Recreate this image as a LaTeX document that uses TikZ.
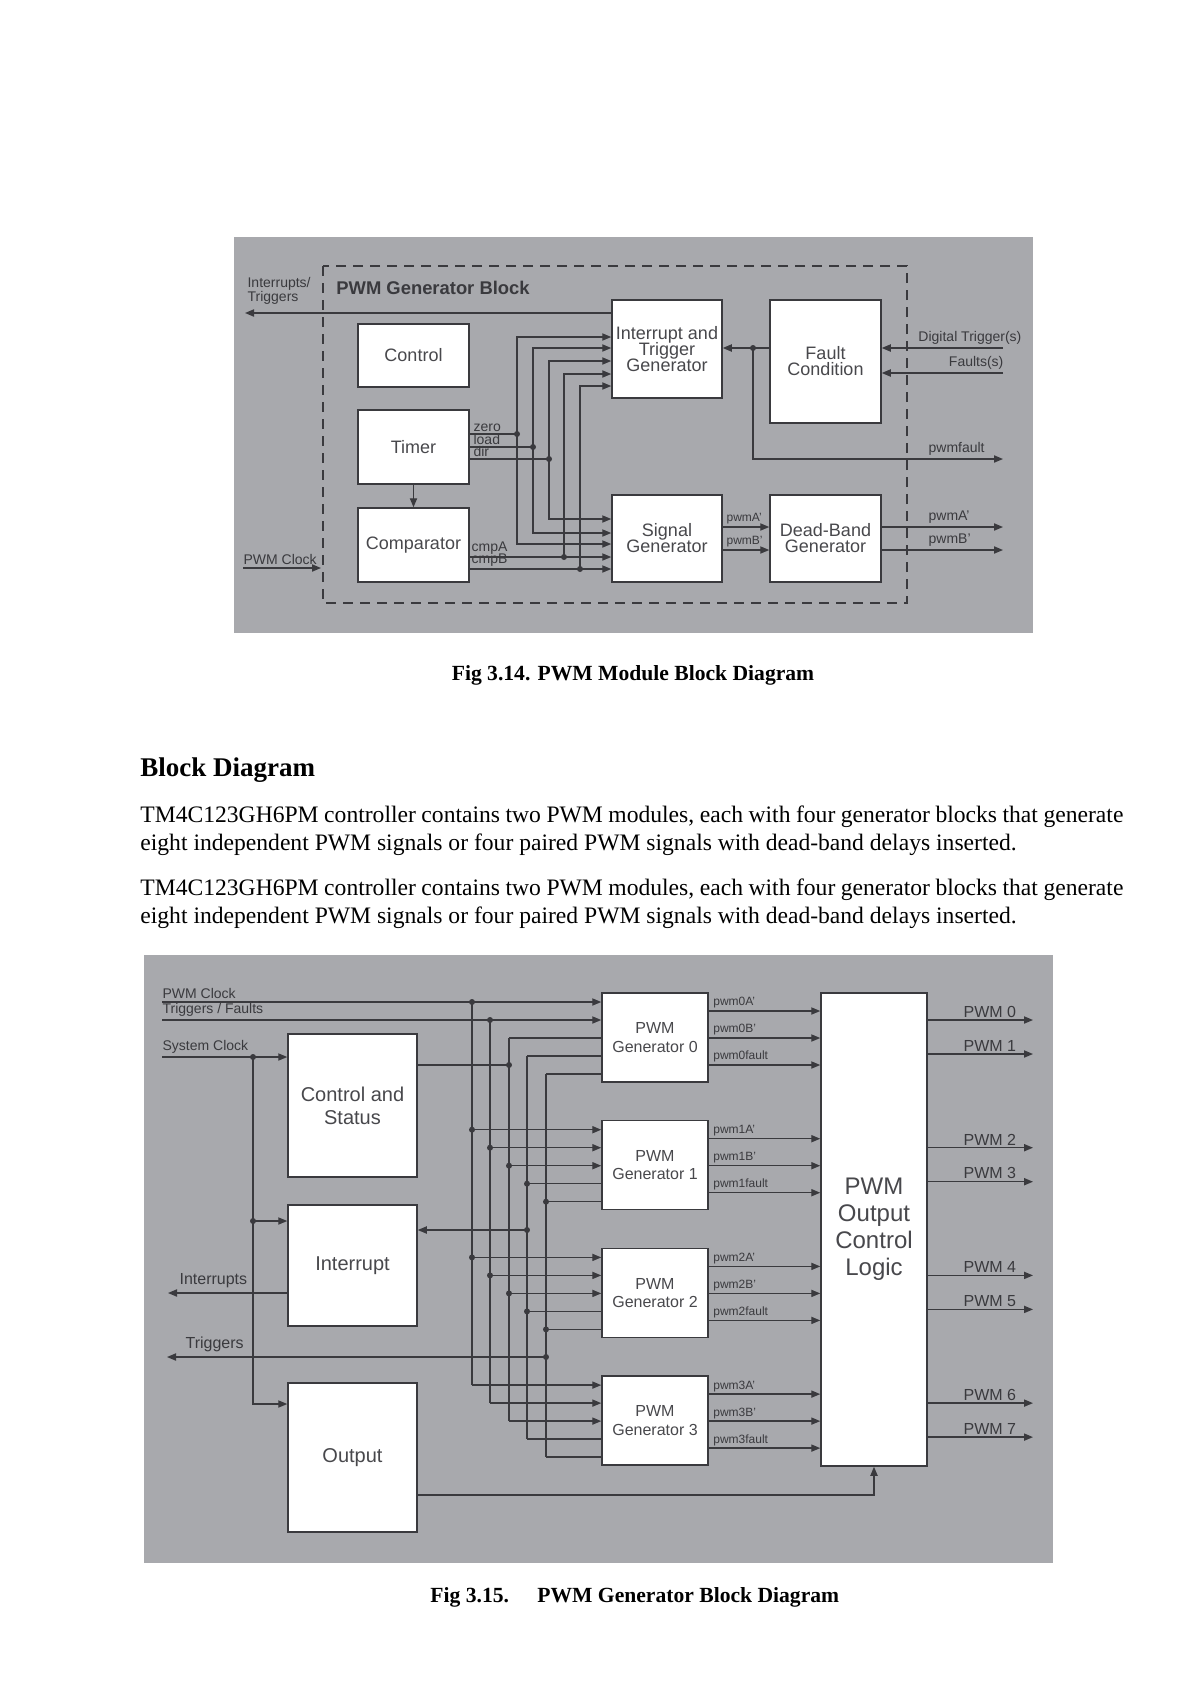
\documentclass[tikz,border=0pt]{standalone}
\usepackage{fontspec}
\setmainfont{Liberation Serif}
\setsansfont{Liberation Sans}
\usetikzlibrary{positioning}
\usetikzlibrary{calc}
\usetikzlibrary{arrows.meta}
\definecolor{panel}{RGB}{168,169,173}
\definecolor{wirec}{RGB}{58,58,62}
\definecolor{ink}{RGB}{72,72,76}
\newcommand{\fs}[1]{\fontsize{#1}{#1}\selectfont}

\begin{document}
\begin{tikzpicture}[x=0.5pt, y=-0.5pt, font=\sffamily,
    blk/.style={draw=wirec, fill=white, line width=0.75pt, inner sep=0pt, align=center, text=ink},
    sz/.style 2 args={minimum width=#1*0.5pt, minimum height=#2*0.5pt},
    wire/.style={draw=wirec, line width=0.65pt},
    arr/.style={wire, -{Triangle[length=4.5pt,width=3.6pt]}},
    jdot/.style={circle, fill=wirec, inner sep=0pt, minimum size=3pt},
    sig/.style={inner sep=0.6pt, text=wirec, font=\sffamily\fs{7}},
    tiny/.style={inner sep=0.6pt, text=wirec, font=\sffamily\fs{6}},
    body/.style={inner sep=0pt, anchor=west, font=\fs{11.8}}]
    \useasboundingbox (0,0) rectangle (1200,1698);
    \fill[white] (0,0) rectangle (1200,1698);

    % ---------------- Fig 3.14 ----------------
    \fill[panel] (234,237) rectangle (1033,633);
    \draw[wirec, line width=0.9pt, dash pattern=on 5pt off 3.5pt] (323,266) rectangle (907,603);
    \node[anchor=west, inner sep=0pt, text=wirec, font=\sffamily\bfseries\fs{9.2}] (gbt) at (336,288) {PWM Generator Block};

    \node[blk, sz={111}{63}, font=\sffamily\fs{9}] (ctrl) at (413.5,355.5) {Control};
    \node[blk, sz={111}{74}, font=\sffamily\fs{9}] (timer) at (413.5,447) {Timer};
    \node[blk, sz={111}{74}, font=\sffamily\fs{9}] (comp) at (413.5,545) {Comparator};
    \node[blk, sz={110}{98}, font=\sffamily\fs{9}] (igen) at (667,349) {Interrupt and\\[-1pt]Trigger\\[-1pt]Generator};
    \node[blk, sz={111}{123}, font=\sffamily\fs{9}] (fault) at (825.5,361.5) {Fault\\[-1pt]Condition};
    \node[blk, sz={110}{87}, font=\sffamily\fs{9}] (sgen) at (667,538.5) {Signal\\[-1pt]Generator};
    \node[blk, sz={111}{87}, font=\sffamily\fs{9}] (dband) at (825.5,538.5) {Dead-Band\\[-1pt]Generator};

    \draw[arr] (timer) -- (comp);

    % outputs to the left
    \coordinate (itout) at (245,313);
    \draw[arr] (igen.west |- itout) -- (itout);
    \node[sig, anchor=west, align=left] (itl) at (246,291) {Interrupts/\\Triggers};
    \coordinate (clkin) at (243,568);
    \coordinate (clkend) at (321,568);
    \draw[arr] (clkin) -- (clkend);
    \node[sig, anchor=south west] (clkl) at (242,566) {PWM Clock};

    % timer and comparator buses
    \coordinate (zr) at (517,434);
    \coordinate (ld) at (533,447);
    \coordinate (dr) at (549,459);
    \coordinate (ca) at (564,557);
    \coordinate (cb) at (580,569);
    \draw[wire] (timer.east |- zr) -- (zr);
    \draw[wire] (timer.east |- ld) -- (ld);
    \draw[wire] (timer.east |- dr) -- (dr);
    \draw[arr] (comp.east |- ca) -- (sgen.west |- ca);
    \draw[arr] (comp.east |- cb) -- (sgen.west |- cb);
    \draw[arr] (zr) |- (igen.west |- 0,337);
    \draw[arr] (ld) |- (igen.west |- 0,348);
    \draw[arr] (dr) |- (igen.west |- 0,361);
    \draw[arr] (ca) |- (igen.west |- 0,374);
    \draw[arr] (cb) |- (igen.west |- 0,386);
    \draw[arr] (zr) |- (sgen.west |- 0,544);
    \draw[arr] (ld) |- (sgen.west |- 0,533);
    \draw[arr] (dr) |- (sgen.west |- 0,519);
    \foreach \j in {zr,ld,dr,ca,cb} \node[jdot] at (\j) {};
    \node[sig, anchor=south west] (zrl) at (472,433) {zero};
    \node[sig, anchor=south west] (ldl) at (472,446) {load};
    \node[sig, anchor=south west] (drl) at (472,458) {dir};
    \node[sig, anchor=south west] (cal) at (470,556) {cmpA};
    \node[sig, anchor=south west] (cbl) at (470,568) {cmpB};

    % fault condition
    \coordinate (fj) at (753,348);
    \coordinate (pfo) at (1003,459);
    \draw[arr] (fault.west |- fj) -- (igen.east |- fj);
    \draw[arr] (fj) |- (pfo);
    \node[jdot] at (fj) {};
    \node[sig, anchor=south west] (pfl) at (927,457) {pwmfault};
    \coordinate (dtin) at (1003,348);
    \coordinate (ftin) at (1003,373);
    \draw[arr] (dtin) -- (fault.east |- dtin);
    \draw[arr] (ftin) -- (fault.east |- ftin);
    \node[sig, anchor=south east] (dtl) at (1023,346) {Digital Trigger(s)};
    \node[sig, anchor=south east] (ftl) at (1005,371) {Faults(s)};

    % signal and dead-band
    \coordinate (pai) at (0,527);
    \coordinate (pbi) at (0,550);
    \draw[arr] (sgen.east |- pai) -- (dband.west |- pai);
    \draw[arr] (sgen.east |- pbi) -- (dband.west |- pbi);
    \node[tiny, anchor=south west] (pail) at (725,526) {pwmA'};
    \node[tiny, anchor=south west] (pbil) at (725,549) {pwmB'};
    \coordinate (pao) at (1003,527);
    \coordinate (pbo) at (1003,550);
    \draw[arr] (dband.east |- pao) -- (pao);
    \draw[arr] (dband.east |- pbo) -- (pbo);
    \node[sig, anchor=south west] (paol) at (927,525) {pwmA'};
    \node[sig, anchor=south west] (pbol) at (927,548) {pwmB'};

    \node[font=\bfseries\fs{10.8}, inner sep=0pt] (cap1) at (633,675) {Fig 3.14. PWM Module Block Diagram};

    % ---------------- text ----------------
    \node[body, font=\bfseries\fs{13.5}] (head) at (140,770) {Block Diagram};
    \node[body] (t1) at (140,817) {\makebox[491.5pt][s]{TM4C123GH6PM controller contains two PWM modules, each with four generator blocks that generate}};
    \node[body] (t2) at (140,845) {eight independent PWM signals or four paired PWM signals with dead-band delays inserted.};
    \node[body] (t3) at (140,890) {\makebox[491.5pt][s]{TM4C123GH6PM controller contains two PWM modules, each with four generator blocks that generate}};
    \node[body] (t4) at (140,918) {eight independent PWM signals or four paired PWM signals with dead-band delays inserted.};

    % ---------------- Fig 3.15 ----------------
    \fill[panel] (144,955) rectangle (1053,1563);

    \node[blk, sz={129}{143}, font=\sffamily\fs{10}] (cs) at (352.5,1105.5) {Control and\\[1.4pt]Status};
    \node[blk, sz={129}{121}, font=\sffamily\fs{10}] (intr) at (352.5,1265.5) {Interrupt};
    \node[blk, sz={129}{149}, font=\sffamily\fs{10}] (outp) at (352.5,1457.5) {Output};
    \node[blk, sz={106}{473}, font=\sffamily\fs{12}] (ocl) at (874,1229.5) {PWM\\[1.5pt]Output\\[1.5pt]Control\\[1.5pt]Logic};
    \foreach \i in {0,...,3}
        \node[blk, sz={106}{89}, font=\sffamily\fs{8}] (g\i) at (655,{1037.5+127.7*\i}) {PWM\\[1.2pt]Generator \i};

    % bus coordinates
    \foreach \k/\bx in {1/472,2/490,3/509,4/527,5/546} {
        \foreach \i in {0,...,3}
            \coordinate (b\k\i) at (\bx,{993+127.7*\i+9+18*(\k-1)});
        \draw[wire] (b\k0) -- (b\k3);
    }
    \coordinate (pclk) at (162,1002);
    \coordinate (tflt) at (162,1020);
    \draw[arr] (pclk) -- (g0.west |- pclk);
    \draw[arr] (tflt) -- (g0.west |- tflt);
    \node[sig, anchor=south west] (pclkl) at (161,1000) {PWM Clock};
    \node[sig, anchor=south west] (tfltl) at (161,1018) {Triggers / Faults};
    \foreach \k in {3,4,5} \draw[wire] (b\k0) -- (g0.west |- b\k0);
    \node[jdot] at (b10) {};
    \node[jdot] at (b20) {};
    \foreach \i in {1,2,3} {
        \foreach \k in {1,2,3} \draw[arr] (b\k\i) -- (g\i.west |- b\k\i);
        \foreach \k in {4,5} \draw[wire] (b\k\i) -- (g\i.west |- b\k\i);
    }
    \foreach \i in {1,2} \foreach \k in {1,...,5} \node[jdot] at (b\k\i) {};

    % generator outputs
    \foreach \i in {0,...,3} {
        \foreach \s/\o in {A'/18,B'/45,fault/72} {
            \coordinate (o\i) at (0,{993+127.7*\i+\o});
            \draw[arr] (g\i.east |- o\i) -- (ocl.west |- o\i);
            \node[tiny, anchor=south west] at ($(g\i.east |- o\i)+(3,-1)$) {pwm\i\s};
        }
    }
    % PWM outputs
    \foreach \n in {0,...,7} {
        \coordinate (po\n) at (1033,{1020+127.7*int(\n/2)+34*mod(\n,2)});
        \draw[arr] (ocl.east |- po\n) -- (po\n);
        \node[sig, anchor=south west, font=\sffamily\fs{8}] at ($(po\n)+(-71,-1)$) {PWM \n};
    }

    % system clock, control, interrupt, output
    \coordinate (sclk) at (162,1057);
    \coordinate (sj) at (253,1057);
    \coordinate (sij) at (253,1221);
    \draw[arr] (sclk) -- (cs.west |- sclk);
    \draw[arr] (sij) -- (intr.west |- sij);
    \draw[arr] (sj) |- (outp.west |- 0,1404);
    \node[jdot] at (sj) {};
    \node[jdot] at (sij) {};
    \node[sig, anchor=south west] (sclkl) at (161,1055) {System Clock};

    \coordinate (cso) at (509,1065);
    \draw[wire] (cs.east |- cso) -- (cso);
    \node[jdot] at (cso) {};
    \coordinate (ij) at (527,1230);
    \draw[arr] (ij) -- (intr.east |- ij);
    \node[jdot] at (ij) {};
    \coordinate (iout) at (168,1293);
    \draw[arr] (intr.west |- iout) -- (iout);
    \node[sig, anchor=south west, font=\sffamily\fs{8}] (ioutl) at (178,1289) {Interrupts};
    \coordinate (tj) at (546,1357);
    \coordinate (tout) at (167,1357);
    \draw[arr] (tj) -- (tout);
    \node[jdot] at (tj) {};
    \node[sig, anchor=south west, font=\sffamily\fs{8}] (toutl) at (184,1353) {Triggers};
    \draw[arr] (outp.east |- 0,1495) -| (ocl.south);

    \node[anchor=west, font=\bfseries\fs{10.8}, inner sep=0pt] (cap2a) at (430,1597) {Fig 3.15.};
    \node[anchor=west, font=\bfseries\fs{10.8}, inner sep=0pt] (cap2b) at (537,1597) {PWM Generator Block Diagram};
\end{tikzpicture}
\end{document}
